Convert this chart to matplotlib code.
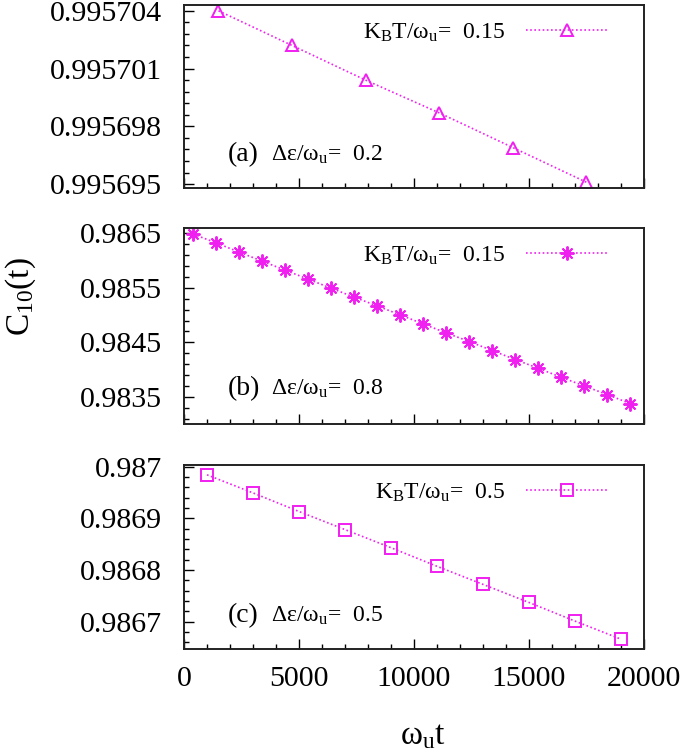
import matplotlib
matplotlib.use("Agg")
import matplotlib.pyplot as plt
from matplotlib.ticker import FixedLocator, AutoMinorLocator, FormatStrFormatter

plt.rcParams['font.family'] = ['Liberation Serif', 'DejaVu Serif']
plt.rcParams['mathtext.fontset'] = 'custom'
plt.rcParams['mathtext.rm'] = 'Liberation Serif'
plt.rcParams['mathtext.it'] = 'Liberation Serif:italic'

# panel (a): K_B T = 0.15, delta eps = 0.2
t_a = [1500, 4700, 7900, 11100, 14300, 17500]
c_a = [0.9957040, 0.9957022, 0.9957004, 0.9956987, 0.9956969, 0.9956951]

# panel (b): K_B T = 0.15, delta eps = 0.8
t_b = [400, 1400, 2400, 3400, 4400, 5400, 6400, 7400, 8400, 9400,
       10400, 11400, 12400, 13400, 14400, 15400, 16400, 17400, 18400, 19400]
c_b = [0.986487, 0.986327, 0.986156, 0.985991, 0.985825, 0.985660, 0.985494,
       0.985329, 0.985169, 0.985004, 0.984838, 0.984673, 0.984515, 0.984349,
       0.984184, 0.984024, 0.983858, 0.983699, 0.983540, 0.983375]

# panel (c): K_B T = 0.5, delta eps = 0.5
t_c = [1000, 3000, 5000, 7000, 9000, 11000, 13000, 15000, 17000, 19000]
c_c = [0.986984, 0.986949, 0.986913, 0.986878, 0.986843, 0.986807,
       0.986772, 0.986737, 0.986701, 0.986666]

yticks_a = [0.995695, 0.995698, 0.995701, 0.995704]
yticks_b = [0.9835, 0.9845, 0.9855, 0.9865]
yticks_c = [0.9867, 0.9868, 0.9869, 0.987]
xticks = [0, 5000, 10000, 15000, 20000]

kbt_labels = ['0.15', '0.15', '0.5']
deps_labels = ['0.2', '0.8', '0.5']
panel_tags = ['(a)', '(b)', '(c)']

color = '#f020f0'

fig = plt.figure(figsize=(6.85, 7.5), dpi=100)

left, width = 0.2686, 0.6715
ax_a = fig.add_axes([left, 0.7493, width, 0.2440])
ax_b = fig.add_axes([left, 0.4347, width, 0.2613])
ax_c = fig.add_axes([left, 0.1347, width, 0.2453])

panels = [
    (ax_a, t_a, c_a, '^', 8, (0.9956948, 0.9957043), yticks_a),
    (ax_b, t_b, c_b, (8, 2, 0), 10, (0.9830, 0.9866), yticks_b),
    (ax_c, t_c, c_c, 's', 8.5, (0.986647, 0.987003), yticks_c),
]

for i, (ax, t, c, mk, ms, ylim, yt) in enumerate(panels):
    label = r'K$_{\rm B}$T/ω$_{\rm u}$=  ' + kbt_labels[i]
    ax.plot(t, c, color=color, linestyle=(0, (1, 1.5)), linewidth=1.2,
            marker=mk, markersize=ms, markerfacecolor='none',
            markeredgecolor=color, markeredgewidth=1.4, label=label)
    ax.set_xlim(0, 20000)
    ax.set_ylim(*ylim)
    ax.xaxis.set_major_locator(FixedLocator(xticks))
    ax.xaxis.set_minor_locator(AutoMinorLocator(5))
    ax.yaxis.set_major_locator(FixedLocator(yt))
    ax.yaxis.set_minor_locator(AutoMinorLocator(5))
    ax.yaxis.set_major_formatter(FormatStrFormatter('%g'))
    ax.tick_params(which='both', direction='in', top=False, right=False,
                   labelsize=21.5)
    ax.tick_params(which='major', length=7, width=1.0)
    ax.tick_params(which='minor', length=3.5, width=1.0)
    ax.tick_params(axis='y', pad=16)
    ax.tick_params(axis='x', pad=12)
    for sp in ax.spines.values():
        sp.set_linewidth(1.4)
        sp.set_color('#222222')
    if i < 2:
        ax.tick_params(axis='x', labelbottom=False)

    ax.legend(loc='upper right', frameon=False, fontsize=17, markerfirst=False,
              numpoints=1, handlelength=3.4, handletextpad=0.9,
              borderaxespad=0.3, bbox_to_anchor=(0.955, 1.0))

    ax.text(0.095, 0.18, panel_tags[i], transform=ax.transAxes, fontsize=20,
            va='center', ha='left')
    ax.text(0.19, 0.18, r'Δε/ω$_{\rm u}$=  ' + deps_labels[i],
            transform=ax.transAxes, fontsize=17, va='center', ha='left')

fig.text(0.03, 0.605, r'C$_{10}$(t)', rotation=90, fontsize=24,
         va='center', ha='center')
fig.text(0.617, 0.019, r'ω$_{\rm u}$t', fontsize=24, va='center', ha='center')

fig.savefig('out.png', dpi=100)
